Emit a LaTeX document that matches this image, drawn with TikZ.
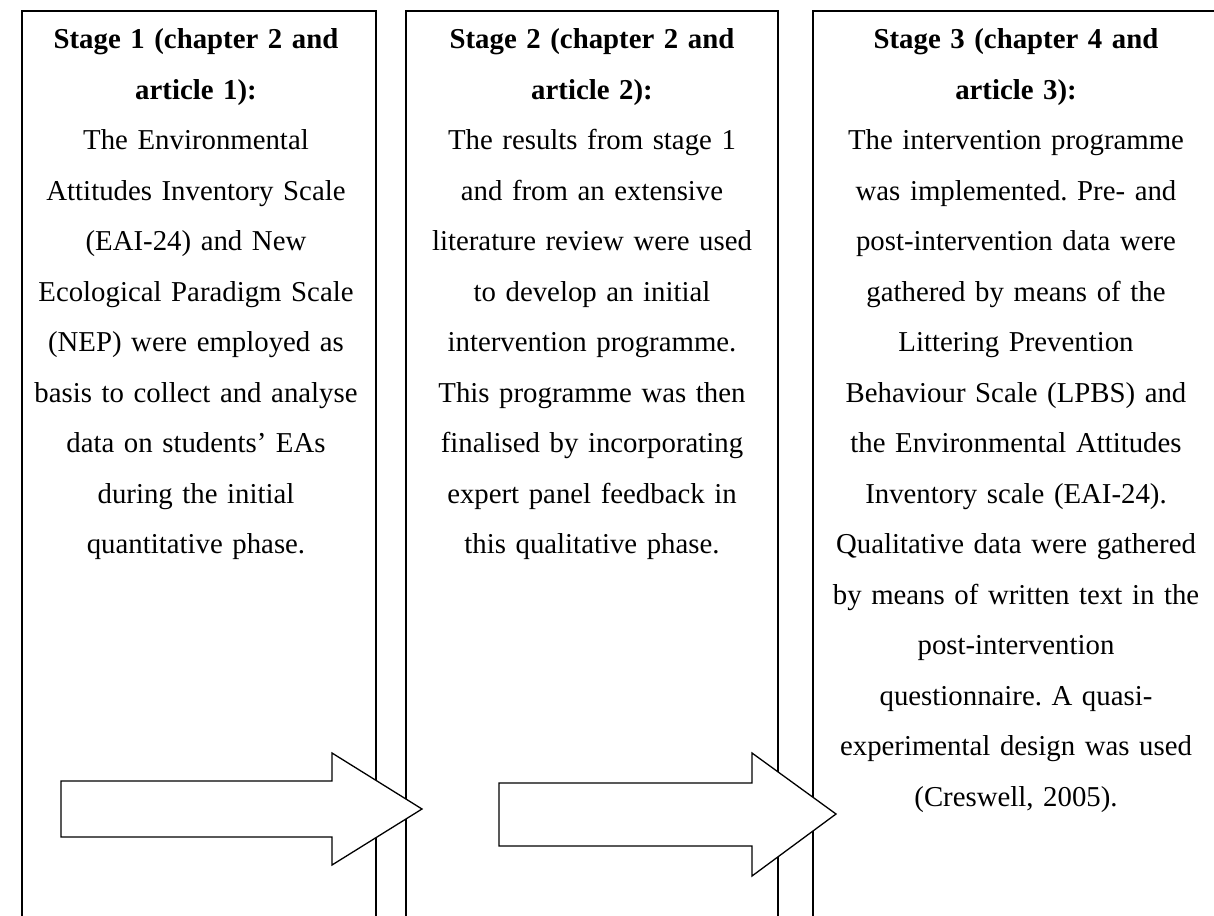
\documentclass[tikz,border=0pt]{standalone}
\usepackage{fontspec}
\setmainfont{Liberation Serif}
\frenchspacing

\begin{document}
\begin{tikzpicture}[x=1pt, y=-1pt,
    stageFrame/.style={draw=borderColour, line width=1.3pt},
    stageText/.style={anchor=north, align=center, inner sep=0pt,
        font=\fontsize{28.8}{50.5}\selectfont},
    blockArrow/.style={draw=borderColour, fill=fillColour, line width=1.3pt, line join=miter}]
    \def\frameTop{11}
    \def\frameBottom{940}

    \definecolor{borderColour}{HTML}{000000}
    \definecolor{fillColour}{HTML}{FFFFFF}

    \useasboundingbox (0,0) rectangle (1214,915);
    \clip (0,0) rectangle (1214,915);

    % Draw stage frames (open below the page)
    \draw[stageFrame] (22,\frameBottom) -- (22,\frameTop) -- (376,\frameTop) -- (376,\frameBottom);
    \draw[stageFrame] (406,\frameBottom) -- (406,\frameTop) -- (778,\frameTop) -- (778,\frameBottom);
    \draw[stageFrame] (813,\frameBottom) -- (813,\frameTop) -- (1222,\frameTop) -- (1222,\frameBottom);

    % Stage texts
    \node[stageText, text width=350pt] (stageOne) at (196,28.5) {%
        \textbf{Stage 1 (chapter 2 and}\\ \textbf{article 1):}\\
        The Environmental\\ Attitudes Inventory Scale\\ (EAI-24) and New\\
        Ecological Paradigm Scale\\ (NEP) were employed as\\
        basis to collect and analyse\\ data on students' EAs\\
        during the initial\\ quantitative phase.};
    \node[stageText, text width=368pt] (stageTwo) at (592,28.5) {%
        \textbf{Stage 2 (chapter 2 and}\\ \textbf{article 2):}\\
        The results from stage 1\\ and from an extensive\\
        literature review were used\\ to develop an initial\\
        intervention programme.\\ This programme was then\\
        finalised by incorporating\\ expert panel feedback in\\
        this qualitative phase.};
    \node[stageText, text width=404pt] (stageThree) at (1016,28.5) {%
        \textbf{Stage 3 (chapter 4 and}\\ \textbf{article 3):}\\
        The intervention programme\\ was implemented. Pre- and\\
        post-intervention data were\\ gathered by means of the\\
        Littering Prevention\\ Behaviour Scale (LPBS) and\\
        the Environmental Attitudes\\ Inventory scale (EAI-24).\\
        Qualitative data were gathered\\ by means of written text in the\\
        post-intervention\\ questionnaire. A quasi-\\
        experimental design was used\\ (Creswell, 2005).};

    % Block arrows between the stages
    \draw[blockArrow] (61,781) -- (332,781) -- (332,753) -- (422,809)
        -- (332,865) -- (332,837) -- (61,837) -- cycle;
    \draw[blockArrow] (499,783) -- (752,783) -- (752,753) -- (836,814)
        -- (752,876) -- (752,846) -- (499,846) -- cycle;

\end{tikzpicture}
\end{document}
